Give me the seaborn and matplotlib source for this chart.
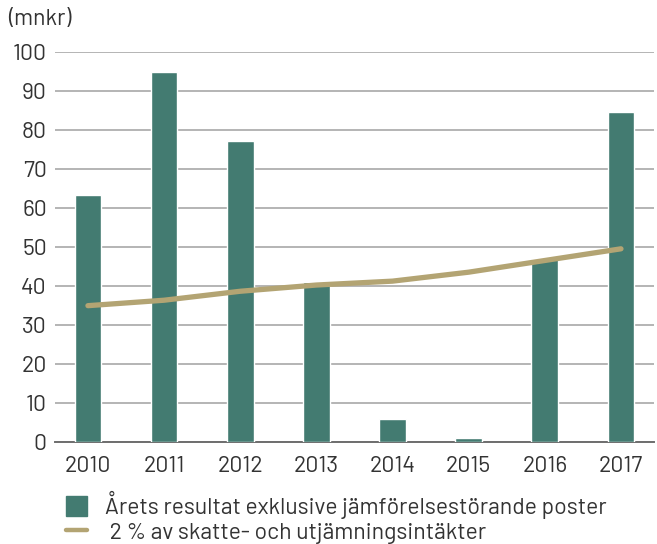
import numpy as np
import matplotlib.pyplot as plt
import seaborn as sns
import pandas as pd
import matplotlib.patches as mpatches
from matplotlib.lines import Line2D

years = ["2010", "2011", "2012", "2013", "2014", "2015", "2016", "2017"]
resultat = [63.5, 94.9, 77.4, 41.0, 5.9, 1.0, 47.0, 84.6]
two_percent = [35.0, 36.4, 38.7, 40.3, 41.3, 43.6, 46.6, 49.6]

bar_color = "#437b71"
line_color = "#b3a473"

sns.set_style("white")
# DIN-like font, with fallbacks
plt.rcParams["font.family"] = ["Barlow", "Roboto", "DejaVu Sans"]

df = pd.DataFrame({"year": years, "resultat": resultat, "line": two_percent})

fig = plt.figure(figsize=(6.57, 5.44), dpi=100)
ax = fig.add_axes([0.084, 0.1875, 0.911, 0.716])

sns.barplot(data=df, x="year", y="resultat", color=bar_color, width=0.35,
            saturation=1, ax=ax, zorder=3)
sns.pointplot(data=df, x="year", y="line", color=line_color, markers="",
              linewidth=3.8, ax=ax, zorder=4)

ax.set_ylim(0, 100)
ax.set_xlim(-0.43, 7.43)
ax.set_yticks(range(0, 101, 10))
ax.yaxis.grid(True, color="#b4b4b4", linewidth=1.4, zorder=0)
ax.set_axisbelow(True)
for s in ["top", "right", "left"]:
    ax.spines[s].set_visible(False)
ax.spines["bottom"].set_color("#6e6e6e")
ax.spines["bottom"].set_linewidth(1.4)
ax.tick_params(axis="both", length=0, labelsize=16.5, colors="#333333")
ax.tick_params(axis="y", pad=6)
ax.tick_params(axis="x", pad=10)
ax.set_xlabel("")
ax.set_ylabel("")

fig.text(0.012, 0.965, "(mnkr)", fontsize=16.5, color="#333333", va="center")

handles = [mpatches.Patch(color=bar_color, label="Årets resultat exklusive jämförelsestörande poster"),
           Line2D([], [], color=line_color, linewidth=3.2,
                  label=" 2 % av skatte- och utjämningsintäkter")]
fig.legend(handles=handles, loc="upper left", bbox_to_anchor=(0.086, 0.115),
           frameon=False, fontsize=16.5, handlelength=0.95, handleheight=1.0,
           labelspacing=0.1, handletextpad=0.75, borderaxespad=0, labelcolor="#333333")

fig.savefig("out.png", dpi=100)
